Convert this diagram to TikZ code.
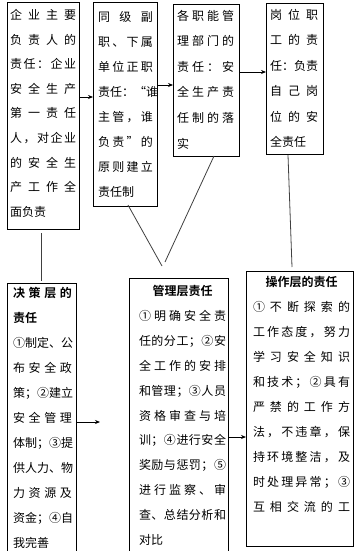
\documentclass[tikz,border=0pt]{standalone}
\usepackage{fontspec}
\usetikzlibrary{arrows.meta,calc}
\newfontfamily\cjk{Noto Sans CJK SC}[BoldFont={Noto Sans CJK SC Bold}]
\makeatletter
\def\Jend{\Jend}
\newcommand\J[1]{\hbox to \hsize{\J@a#1\Jend}}
\newcommand\JB[1]{\hbox to \hsize{\bfseries\J@a#1\Jend}}
\def\J@a#1{#1\J@b}
\def\J@b#1{\ifx#1\Jend\else\hfil#1\expandafter\J@b\fi}
\newcommand\Lf[1]{\hbox to \hsize{#1\hfil}}
\newcommand\Cf[1]{\hbox to \hsize{\hfil\bfseries#1\hfil}}
\newcommand\Blk[3]{\vtop{\hsize=#1\cjk\fontsize{12pt}{#2}\selectfont\lineskiplimit=-20pt #3}}
\makeatother
\begin{document}
\begin{tikzpicture}[x=1pt,y=-1pt,
  box/.style={draw=black,line width=1pt,inner sep=0pt,outer sep=0pt,anchor=north west},
  txt/.style={anchor=base west,inner sep=0pt,outer sep=0pt},
  arr/.style={draw=black,line width=0.8pt,-{Stealth[length=5pt,width=4pt]}},
  lnk/.style={draw=black!75,line width=0.8pt}]
\useasboundingbox[fill=white] (0,0) rectangle (361,551);
% upper boxes
\node[box,minimum width=72pt,minimum height=226pt] (b1) at (7,3) {};
\node[box,minimum width=64pt,minimum height=203pt] (b2) at (93,3) {};
\node[box,minimum width=66pt,minimum height=151pt] (b3) at (173,5) {};
\node[box,minimum width=57pt,minimum height=150pt] (b4) at (266,4) {};
% lower boxes
\node[box,minimum width=69pt,minimum height=275pt] (b5) at (7,283) {};
\node[box,minimum width=99pt,minimum height=280pt] (b6) at (129,278) {};
\node[box,minimum width=107pt,minimum height=275pt] (b7) at (246,271) {};
% texts
\node[txt] (t1) at ($(b1.north west)+(3,16.5)$) {\Blk{66pt}{24.6pt}{%
\J{企业主要}\J{负责人的}\J{责任：企业}\J{安全生产}\J{第一责任}\J{人，对企业}\J{的安全生}\J{产工作全}\Lf{面负责}}};
\node[txt] (t2) at ($(b2.north west)+(5,18.5)$) {\Blk{55pt}{25pt}{%
\J{同级副}\J{职、下属}\J{单位正职}\J{责任：“谁}\J{主管，谁}\J{负责”的}\J{原则建立}\Lf{责任制}}};
\node[txt] (t3) at ($(b3.north west)+(4,15.5)$) {\Blk{57pt}{25.5pt}{%
\J{各职能管}\J{理部门的}\J{责任：安}\J{全生产责}\J{任制的落}\Lf{实}}};
\node[txt] (t4) at ($(b4.north west)+(4,15.5)$) {\Blk{48pt}{25.4pt}{%
\J{岗位职}\J{工的责}\J{任：负责}\J{自己岗}\J{位的安}\Lf{全责任}}};
\node[txt] (t5) at ($(b5.north west)+(6,14.5)$) {\Blk{59pt}{25pt}{%
\JB{决策层的}\hbox to \hsize{\bfseries 责任\hfil}\J{①制定、公}\J{布安全政}\J{策；②建立}\J{安全管理}\J{体制；③提}\J{供人力、物}\J{力资源及}\J{资金；④自}\Lf{我完善}}};
\node[txt] (t6) at ($(b6.north west)+(10,17.5)$) {\Blk{87pt}{24.9pt}{%
\Cf{管理层责任}\J{①明确安全责}\J{任的分工；②安}\J{全工作的安排}\J{和管理；③人员}\J{资格审查与培}\J{训；④进行安全}\J{奖励与惩罚；⑤}\J{进行监察、审}\J{查、总结分析和}\Lf{对比}}};
\node[txt] (t7) at ($(b7.north west)+(7,15.5)$) {\Blk{97pt}{25pt}{%
\Cf{操作层的责任}\J{①不断探索的}\J{工作态度，努力}\J{学习安全知识}\J{和技术；②具有}\J{严禁的工作方}\J{法，不违章，保}\J{持环境整洁，及}\J{时处理异常；③}\J{互相交流的工}}};
% arrows between upper boxes
\draw[arr] ($(b1.north east)+(0,94)$) coordinate (a1) -- (a1 -| b2.west);
\draw[arr] ($(b2.north east)+(0,82)$) coordinate (a2) -- (a2 -| b3.west);
\draw[arr] ($(b3.north east)+(0,67)$) coordinate (a3) -- (a3 -| b4.west);
% arrows between lower boxes
\coordinate (e5) at (100,422);
\draw[arr] (e5 -| b5.east) -- (e5);
\draw[arr] ($(b6.north east)+(0,159)$) coordinate (a6) -- (a6 -| b7.west);
% links between levels
\draw[lnk] ($(b1.south)+(-2,4)$) -- ($(b5.north)+(-0.5,-2)$);
\coordinate (v1) at (162,266);
\coordinate (v2) at (165,262);
\draw[lnk] ($(b2.south)+(3,-1)$) -- (v1);
\draw[lnk] ($(b3.south)+(8,0)$) -- (v2);
\draw[lnk] ($(b4.south)+(-6.5,1)$) -- ($(b7.north)+(-7.5,-4)$);
\end{tikzpicture}
\end{document}
